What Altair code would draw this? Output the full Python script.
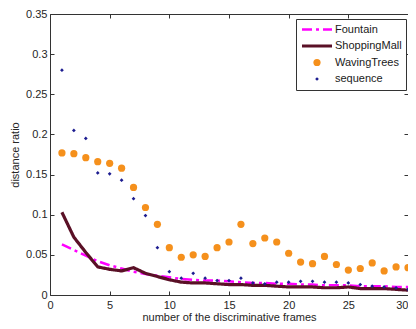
import altair as alt
import pandas as pd

frames = list(range(1, 31))
fountain = [0.063, 0.056, 0.049, 0.042, 0.037, 0.033, 0.029, 0.026, 0.024, 0.022,
            0.020, 0.019, 0.018, 0.018, 0.017, 0.016, 0.015, 0.015, 0.014, 0.014,
            0.013, 0.013, 0.012, 0.012, 0.012, 0.011, 0.011, 0.011, 0.010, 0.010]
shopping = [0.103, 0.072, 0.053, 0.035, 0.032, 0.030, 0.034, 0.027, 0.023, 0.019,
            0.016, 0.015, 0.015, 0.014, 0.013, 0.013, 0.012, 0.012, 0.011, 0.010,
            0.010, 0.010, 0.009, 0.009, 0.010, 0.008, 0.008, 0.008, 0.007, 0.006]
waving = [0.177, 0.176, 0.171, 0.166, 0.164, 0.158, 0.134, 0.109, 0.088, 0.059,
          0.047, 0.050, 0.048, 0.059, 0.066, 0.088, 0.064, 0.071, 0.066, 0.052,
          0.041, 0.039, 0.048, 0.038, 0.031, 0.033, 0.040, 0.030, 0.035, 0.034]
sequence = [0.280, 0.205, 0.195, 0.152, 0.151, 0.143, 0.120, 0.099, 0.059, 0.029,
            0.021, 0.027, 0.021, 0.018, 0.018, 0.021, 0.015, 0.014, 0.016, 0.016,
            0.017, 0.017, 0.016, 0.016, 0.015, 0.013, 0.011, 0.010, 0.009, 0.007]

series_names = ["Fountain", "ShoppingMall", "WavingTrees", "sequence"]
colors = ["#ff00ff", "#5a1026", "#f5901c", "#1c1c90"]
x_ticks = [0, 5, 10, 15, 20, 25, 30]
y_ticks = [0, 0.05, 0.1, 0.15, 0.2, 0.25, 0.3, 0.35]

rows = []
for name, vals in zip(series_names, [fountain, shopping, waving, sequence]):
    for f, v in zip(frames, vals):
        rows.append({"frame": f, "value": v, "series": name})
df = pd.DataFrame(rows)

FONT = "Liberation Sans"
xscale = alt.Scale(domain=[0, 30], nice=False, zero=False)
yscale = alt.Scale(domain=[0, 0.35], nice=False)

leg = alt.Legend(title=None, orient="none", legendX=246, legendY=5,
                 fillColor="white", strokeColor="#333333", padding=4,
                 labelFontSize=11, labelFont=FONT, labelColor="#1a1a1a",
                 rowPadding=3.5, labelOffset=1, cornerRadius=0, symbolOpacity=1,
                 clipHeight=13)

stroke_scale = alt.Scale(domain=series_names, range=colors)
fill_scale = alt.Scale(domain=series_names, range=colors)
dash_scale = alt.Scale(domain=series_names, range=[[10, 4, 3, 4], [1, 0], [1, 0], [1, 0]])
sw_scale = alt.Scale(type="ordinal", domain=series_names, range=[2.5, 3.2, 0, 0])
shape_scale = alt.Scale(domain=series_names, range=["stroke", "stroke", "circle", "diamond"])
size_scale = alt.Scale(type="ordinal", domain=series_names, range=[900, 900, 52, 14])

common_axis = dict(offset=-4, tickSize=4, domain=False, grid=False, tickColor="#333333",
                   labelFont=FONT, labelFontSize=11, labelColor="#262626",
                   titleFont=FONT, titleFontSize=11, titleFontWeight="normal",
                   titleColor="#262626", labelFlush=False)

bottom_axis = alt.Axis(orient="bottom", values=x_ticks, format="d", labelPadding=4,
                       labelAlign={"condition": {"test": "datum.value == 30", "value": "right"},
                                   "value": "center"},
                       title="number of the discriminative frames", titlePadding=1,
                       **common_axis)
left_axis = alt.Axis(orient="left", values=y_ticks, format="~g", labelPadding=3,
                     title="distance ratio", titlePadding=5, **common_axis)
top_axis = alt.Axis(orient="top", values=x_ticks, labels=False, title=None, **common_axis)
right_axis = alt.Axis(orient="right", values=y_ticks, labels=False, title=None, **common_axis)

lines = alt.Chart(df).transform_filter(
    alt.FieldOneOfPredicate(field="series", oneOf=["Fountain", "ShoppingMall"])
).mark_line().encode(
    x=alt.X("frame:Q", scale=xscale, axis=bottom_axis),
    y=alt.Y("value:Q", scale=yscale, axis=left_axis),
    stroke=alt.Stroke("series:N", scale=stroke_scale, legend=leg),
    strokeDash=alt.StrokeDash("series:N", scale=dash_scale, legend=leg),
    strokeWidth=alt.StrokeWidth("series:N", scale=sw_scale, legend=leg),
)

points = alt.Chart(df).transform_filter(
    alt.FieldOneOfPredicate(field="series", oneOf=["WavingTrees", "sequence"])
).mark_point(filled=True, opacity=1).encode(
    x=alt.X("frame:Q", scale=xscale, axis=top_axis),
    y=alt.Y("value:Q", scale=yscale, axis=right_axis),
    fill=alt.Fill("series:N", scale=fill_scale, legend=leg),
    stroke=alt.Stroke("series:N", scale=stroke_scale, legend=leg),
    shape=alt.Shape("series:N", scale=shape_scale, legend=leg),
    size=alt.Size("series:N", scale=size_scale, legend=leg),
    strokeWidth=alt.StrokeWidth("series:N", scale=sw_scale, legend=leg),
)

chart = alt.layer(lines, points).resolve_axis(x="independent", y="independent").properties(
    width=358, height=281,
    autosize=alt.AutoSizeParams(type="none"),
    padding={"left": 42, "top": 6, "right": 0, "bottom": 26},
    background="white",
).configure_view(stroke="#333333", strokeWidth=1)

chart.save("out.html", embed_options={"renderer": "svg", "actions": False})
